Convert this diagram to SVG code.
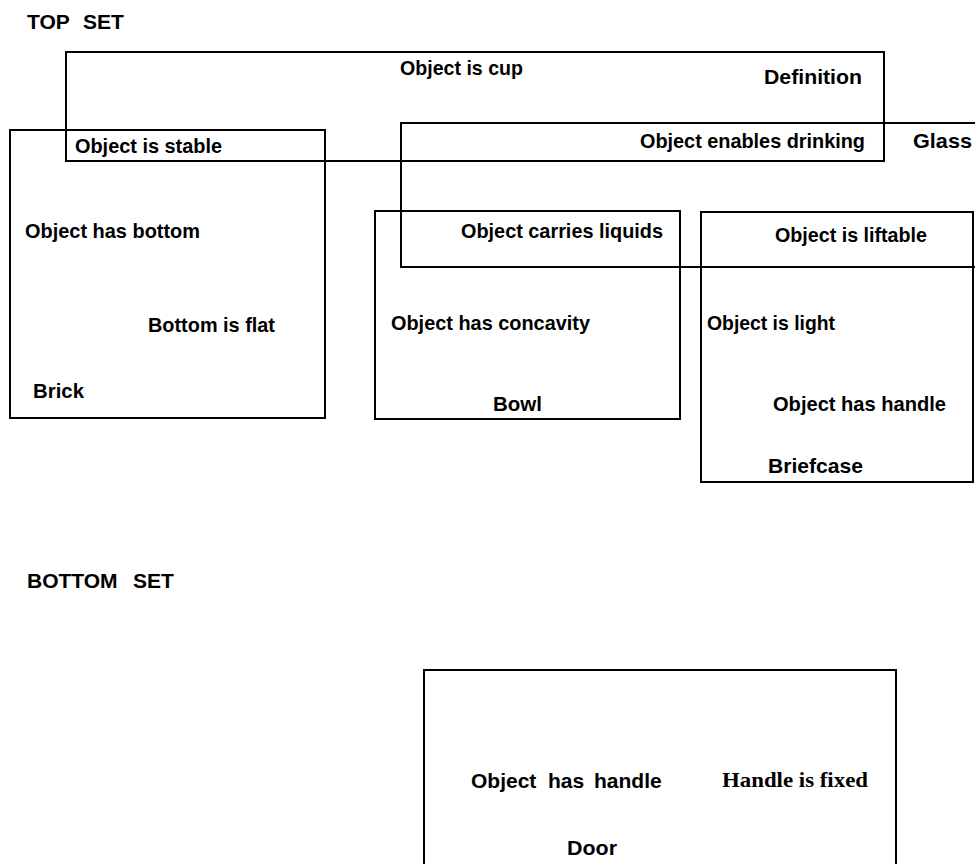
<svg xmlns="http://www.w3.org/2000/svg" width="975" height="864" viewBox="0 0 975 864">
  <style>
    .box { fill: none; stroke: #000; stroke-width: 2; }
    .t { font-family: "Liberation Sans", Arial, Helvetica, sans-serif; font-weight: bold; font-size: 21px; fill: #000; }
    .s { font-family: "Liberation Serif", "Times New Roman", serif; font-weight: bold; font-size: 22px; fill: #000; }
  </style>
  <rect width="975" height="864" fill="#fff"/>

  <!-- section headings -->
  <text class="t" x="27" y="29">TOP<tspan x="83">SET</tspan></text>
  <text class="t" x="27" y="588">BOTTOM<tspan x="133">SET</tspan></text>

  <!-- top set: overlapping category boxes -->
  <g id="definition">
    <rect class="box" x="66" y="52" width="818" height="109"/>
    <text class="t" x="400" y="75" textLength="123" lengthAdjust="spacingAndGlyphs">Object is cup</text>
    <text class="t" x="764" y="84" textLength="98" lengthAdjust="spacingAndGlyphs">Definition</text>
  </g>

  <g id="glass">
    <path class="box" d="M975,123 H401 V267 H975"/>
    <text class="t" x="640" y="148" textLength="225" lengthAdjust="spacingAndGlyphs">Object enables drinking</text>
    <text class="t" x="913" y="148" textLength="59" lengthAdjust="spacingAndGlyphs">Glass</text>
  </g>

  <g id="brick">
    <rect class="box" x="10" y="130" width="315" height="288"/>
    <text class="t" x="75" y="153" textLength="147" lengthAdjust="spacingAndGlyphs">Object is stable</text>
    <text class="t" x="25" y="238" textLength="175" lengthAdjust="spacingAndGlyphs">Object has bottom</text>
    <text class="t" x="148" y="332" textLength="127" lengthAdjust="spacingAndGlyphs">Bottom is flat</text>
    <text class="t" x="33" y="398" textLength="51" lengthAdjust="spacingAndGlyphs">Brick</text>
  </g>

  <g id="bowl">
    <rect class="box" x="375" y="211" width="305" height="208"/>
    <text class="t" x="461" y="238" textLength="202" lengthAdjust="spacingAndGlyphs">Object carries liquids</text>
    <text class="t" x="391" y="330" textLength="199" lengthAdjust="spacingAndGlyphs">Object has concavity</text>
    <text class="t" x="493" y="411" textLength="49" lengthAdjust="spacingAndGlyphs">Bowl</text>
  </g>

  <g id="briefcase">
    <rect class="box" x="701" y="212" width="272" height="270"/>
    <text class="t" x="775" y="242" textLength="152" lengthAdjust="spacingAndGlyphs">Object is liftable</text>
    <text class="t" x="707" y="330" textLength="128" lengthAdjust="spacingAndGlyphs">Object is light</text>
    <text class="t" x="773" y="411" textLength="173" lengthAdjust="spacingAndGlyphs">Object has handle</text>
    <text class="t" x="768" y="473" textLength="95" lengthAdjust="spacingAndGlyphs">Briefcase</text>
  </g>

  <!-- bottom set -->
  <g id="door">
    <path class="box" d="M424,864 V670 H896 V864"/>
    <text class="t" x="471" y="788">Object<tspan x="548">has</tspan><tspan x="594">handle</tspan></text>
    <text class="s" x="722" y="787" textLength="146" lengthAdjust="spacingAndGlyphs">Handle is fixed</text>
    <text class="t" x="567" y="855" textLength="50" lengthAdjust="spacingAndGlyphs">Door</text>
  </g>

  <g id="connectors"/>
</svg>
